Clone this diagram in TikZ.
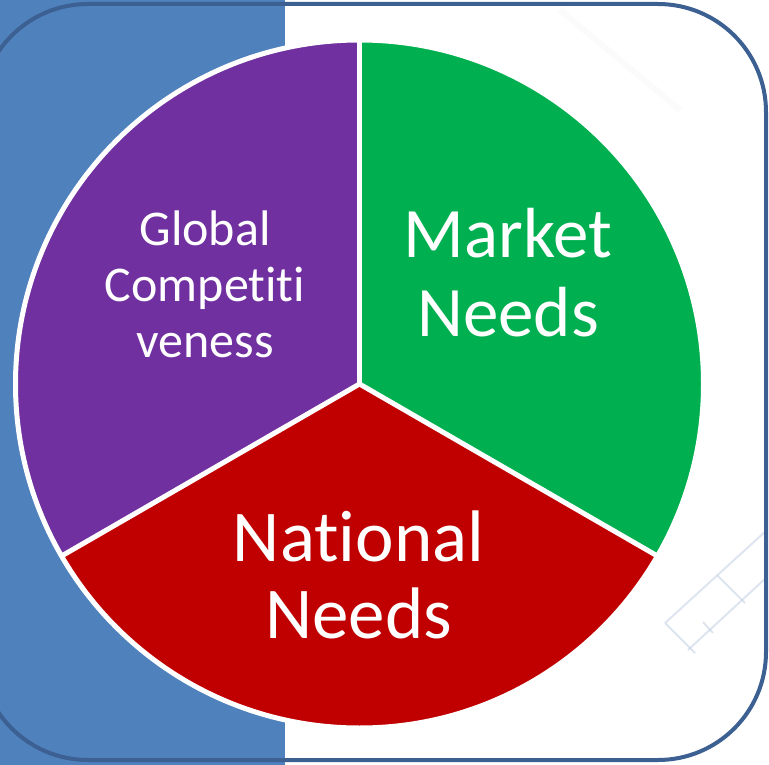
\documentclass[tikz,border=0pt]{standalone}
\usepackage{fontspec}
\setmainfont[RawFeature={-liga}]{Carlito}
\definecolor{band}{HTML}{4F81BD}
\definecolor{frame}{HTML}{3C6092}
\definecolor{pPurple}{HTML}{7030A0}
\definecolor{pGreen}{HTML}{00B050}
\definecolor{pRed}{HTML}{C00000}
\definecolor{faint}{HTML}{C9D5E6}
\begin{document}
\begin{tikzpicture}[x=1pt,y=-1pt,
  sector/.style={draw=white,line width=5pt,line join=miter},
  lbl/.style={text=white,align=center,inner sep=0pt,anchor=base},
  wm/.style={faint,line width=2pt,opacity=0.6}]
\useasboundingbox (0,0) rectangle (769,765);
\fill[white] (0,0) rectangle (769,765);
\fill[band] (0,0) rectangle (285,765);
% faint watermark lines
\draw[wm] (665,623) -- (767,530);
\draw[wm] (688,650) -- (767,577);
\draw[wm] (717,575) -- (745,603);
\draw[wm] (665,623) -- (695,653);
\draw[wm] (703,622) -- (713,633);
\draw[black!4,line width=6pt,opacity=0.4] (560,10) -- (680,110);
% frame
\draw[frame,line width=4pt,rounded corners=108pt] (-20,4) rectangle (766,760);
% pie
\coordinate (c) at (359.5,384);
\fill[pPurple] (c) -- ++(-90:344) arc[start angle=-90,end angle=-210,radius=344] -- cycle;
\fill[pGreen] (c) -- ++(-90:344) arc[start angle=-90,end angle=30,radius=344] -- cycle;
\fill[pRed] (c) -- ++(30:344) arc[start angle=30,end angle=150,radius=344] -- cycle;
\draw[sector] (c) circle[radius=344];
\draw[sector] (c) -- ++(-90:344);
\draw[sector] (c) -- ++(150:344);
\draw[sector] (c) -- ++(30:344);
% labels (anchor base = last line baseline)
\node[lbl,font=\fontsize{50}{56}\selectfont] (glob) at (205,357) {Global\\Competiti\\veness};
\node[lbl,font=\fontsize{71}{79}\selectfont] (mark) at (508,336) {Market\\Needs};
\node[lbl,font=\fontsize{73}{77}\selectfont] (nat) at (358.5,638) {National\\Needs};
\end{tikzpicture}
\end{document}
